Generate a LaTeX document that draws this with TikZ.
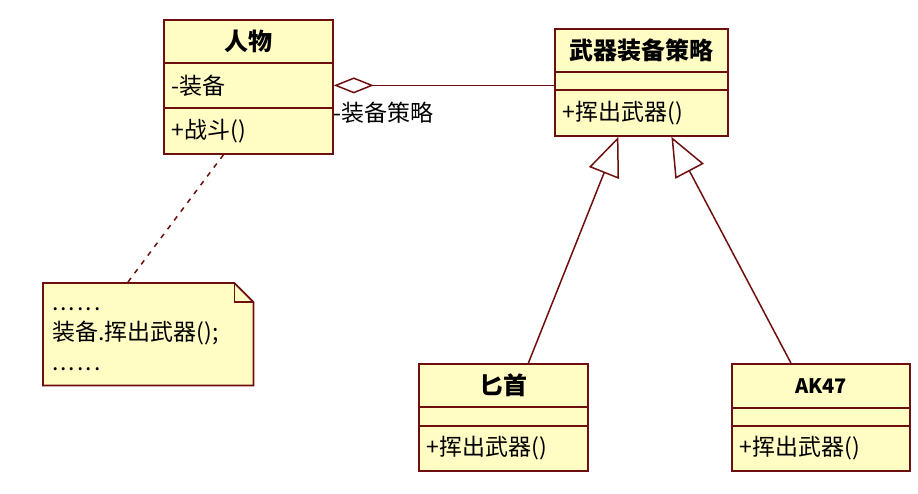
\documentclass[tikz,border=0pt]{standalone}
\usepackage{fontspec}
\setmainfont{Noto Sans CJK SC}
\usetikzlibrary{arrows.meta,backgrounds}
\definecolor{umlborder}{RGB}{110,15,15}
\definecolor{umlfill}{RGB}{255,252,196}
\newcommand\dotrow{.\kern2pt.\kern2pt.\kern2pt.\kern2pt.\kern2pt.}
\tikzset{
  x=1pt, y=-1pt,
  box/.style={draw=umlborder, fill=umlfill, line width=1.8pt, inner sep=0pt, anchor=north west},
  head/.style={box, font=\fontsize{24}{26}\selectfont\bfseries, align=center},
  comp/.style={box, font=\fontsize{23}{26}\selectfont, inner xsep=8pt, align=left},
  conn/.style={draw=umlborder, line width=1.5pt},
  gen/.style={conn, -{Triangle[open, length=39pt, width=32pt, fill=white]}},
  agg/.style={conn, {Diamond[open, length=40pt, width=16pt, fill=white]}-},
  dep/.style={conn, dash pattern=on 5pt off 6pt}
}
\begin{document}
\begin{tikzpicture}
\useasboundingbox (0,0) rectangle (918,494);
% Person class
\node[head, minimum width=169pt, minimum height=43pt] (p) at (163,19) {人物};
\node[comp, text width=153pt, minimum height=45pt] (pa) at (163,62) {-装备};
\node[comp, text width=153pt, minimum height=46pt] (po) at (163,107) {+战斗()};
% Strategy class
\node[head, minimum width=173pt, minimum height=43pt] (s) at (554,28) {武器装备策略};
\node[comp, text width=157pt, minimum height=18pt] (sa) at (554,71) {};
\node[comp, text width=157pt, minimum height=46pt] (so) at (554,89) {+挥出武器()};
% Dagger class
\node[head, minimum width=169pt, minimum height=43pt] (d) at (418,363) {匕首};
\node[comp, text width=153pt, minimum height=19pt] (da) at (418,406) {};
\node[comp, text width=153pt, minimum height=45pt] (do) at (418,425) {+挥出武器()};
% AK47 class
\node[head, minimum width=178pt, minimum height=44pt, font=\fontsize{20}{22}\selectfont\bfseries] (k) at (731,363) {AK47};
\node[comp, text width=162pt, minimum height=18pt] (ka) at (731,407) {};
\node[comp, text width=162pt, minimum height=45pt] (ko) at (731,425) {+挥出武器()};
% Note
\node[anchor=north west, minimum width=210pt, minimum height=102pt, inner sep=0pt] (n) at (43,283) {};
\node[anchor=north west, inner sep=0pt, align=left, font=\fontsize{23}{30}\selectfont] (nt) at (52,307) {\dotrow\\装备.挥出武器();\\\dotrow};
\begin{scope}[on background layer]
\draw[draw=umlborder, fill=umlfill, line width=1.8pt]
  (n.north west) -- ([xshift=-19pt]n.north east) -- ([yshift=-19pt]n.north east)
  -- (n.south east) -- (n.south west) -- cycle;
\end{scope}
\draw[draw=umlborder, line width=1.5pt]
  ([xshift=-19pt]n.north east) -- ([xshift=-19pt,yshift=-19pt]n.north east) -- ([yshift=-19pt]n.north east);
% Connectors
\draw[agg] (pa.east) -- (pa.east -| s.west);
\node[anchor=west, inner sep=0pt, font=\fontsize{23}{26}\selectfont] (rl) at (333,113) {-装备策略};
\draw[gen] ([xshift=25pt]d.north) -- ([xshift=-23pt]so.south);
\draw[gen] ([xshift=-30pt]k.north) -- ([xshift=30pt]so.south);
\draw[dep] ([xshift=-25pt]po.south) -- ([xshift=-21pt]n.north);
\end{tikzpicture}
\end{document}
